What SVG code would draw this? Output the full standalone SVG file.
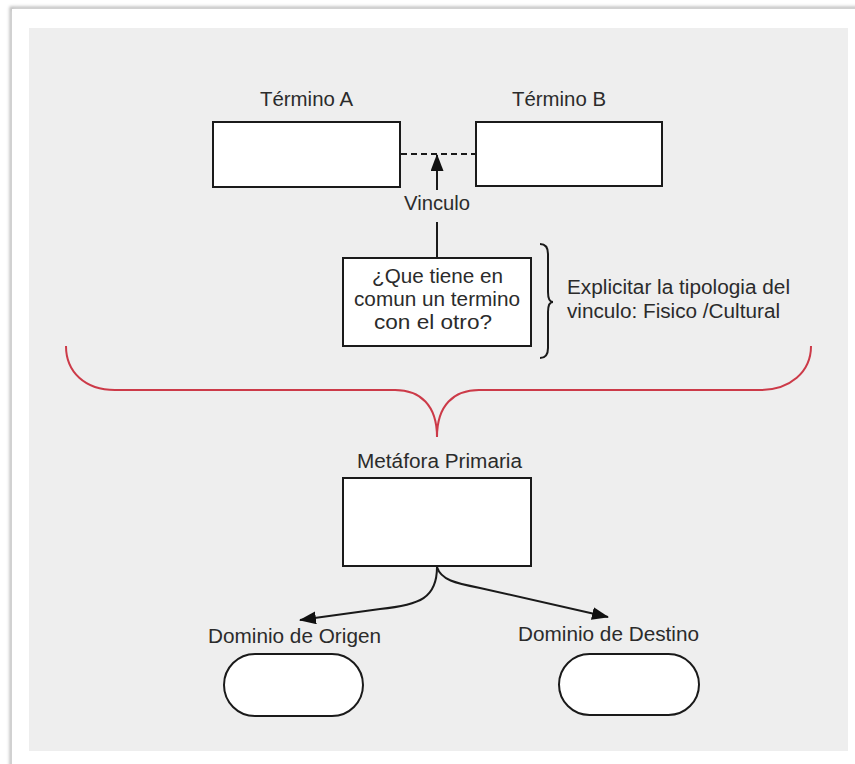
<svg xmlns="http://www.w3.org/2000/svg" width="855" height="764" viewBox="0 0 855 764">
<defs>
<style>
.t{font-family:"Liberation Sans",Arial,sans-serif;font-size:20px;fill:#2b2b2b}
.box{fill:#ffffff;stroke:#1a1a1a;stroke-width:2}
.ln{fill:none;stroke:#1a1a1a;stroke-width:2}
</style>
<marker id="ah" viewBox="0 0 17 13" refX="16" refY="6.5" markerWidth="17" markerHeight="13" markerUnits="userSpaceOnUse" orient="auto">
<path d="M0,0 L17,6.5 L0,13 Z" fill="#111"/>
</marker>
<filter id="sh" x="-5%" y="-5%" width="110%" height="110%">
<feGaussianBlur stdDeviation="1.5"/>
</filter>
</defs>
<rect width="855" height="764" fill="#ffffff"/>
<rect x="11" y="8" width="860" height="770" fill="none" stroke="#b8b8b8" stroke-width="3" filter="url(#sh)"/>
<rect x="12" y="9" width="850" height="760" fill="#ffffff"/>
<rect x="29" y="28" width="819" height="723" fill="#eeeeee"/>

<g id="connectors">
<line x1="401" y1="154" x2="475" y2="154" class="ln" stroke-dasharray="6,4"/>
<line x1="437" y1="257" x2="437" y2="222" class="ln"/>
<line x1="437" y1="190" x2="437" y2="155" class="ln" marker-end="url(#ah)"/>
<path d="M437,567 C437,598 420,605 380,609 L300,620" class="ln" marker-end="url(#ah)"/>
<path d="M437,567 C441,580 455,583 480,588 L608,617" class="ln" marker-end="url(#ah)"/>
<path d="M540,244 Q548,244 548,254 L548,292 Q548,302 553,302 Q548,302 548,312 L548,348 Q548,358 540,358" class="ln"/>
<path d="M66,346 C66,372 85,390 115,390 L395,390 C420,390 437,405 437,437 C437,405 454,390 479,390 L760,390 C790,390 811,372 811,346" fill="none" stroke="#cc3a48" stroke-width="2"/>
</g>

<g id="termino-a">
<text class="t" x="260" y="106" textLength="93" lengthAdjust="spacingAndGlyphs">Término A</text>
<rect class="box" x="213" y="122" width="187" height="65"/>
</g>
<g id="termino-b">
<text class="t" x="512" y="106" textLength="94" lengthAdjust="spacingAndGlyphs">Término B</text>
<rect class="box" x="476" y="122" width="186" height="64"/>
</g>
<g id="vinculo">
<text class="t" x="404" y="210" textLength="66" lengthAdjust="spacingAndGlyphs">Vinculo</text>
</g>
<g id="pregunta">
<rect class="box" x="343" y="258" width="188" height="88"/>
<text class="t" x="372" y="283" textLength="131" lengthAdjust="spacingAndGlyphs">¿Que tiene en</text>
<text class="t" x="354" y="306" textLength="166" lengthAdjust="spacingAndGlyphs">comun un termino</text>
<text class="t" x="374" y="329" textLength="118" lengthAdjust="spacingAndGlyphs">con el otro?</text>
</g>
<g id="explicitar">
<text class="t" x="567" y="294" textLength="223" lengthAdjust="spacingAndGlyphs">Explicitar la tipologia del</text>
<text class="t" x="567" y="318" textLength="213" lengthAdjust="spacingAndGlyphs">vinculo: Fisico /Cultural</text>
</g>
<g id="metafora">
<text class="t" x="357" y="468" textLength="165" lengthAdjust="spacingAndGlyphs">Metáfora Primaria</text>
<rect class="box" x="343" y="478" width="188" height="88"/>
</g>
<g id="origen">
<text class="t" x="208" y="643" textLength="173" lengthAdjust="spacingAndGlyphs">Dominio de Origen</text>
<rect class="box" x="224" y="654" width="139" height="62" rx="31" ry="31"/>
</g>
<g id="destino">
<text class="t" x="518" y="641" textLength="181" lengthAdjust="spacingAndGlyphs">Dominio de Destino</text>
<rect class="box" x="559" y="654" width="140" height="61" rx="30.5" ry="30.5"/>
</g>
</svg>
